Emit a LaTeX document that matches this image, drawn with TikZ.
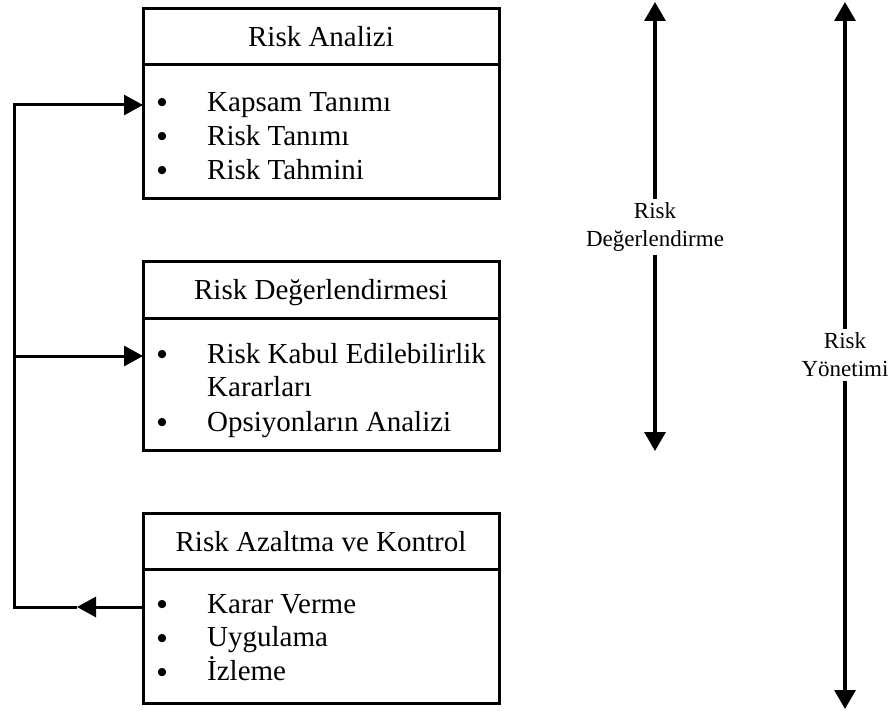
\documentclass[tikz,border=0pt]{standalone}
\usepackage{fontspec}
\setmainfont{Liberation Serif}
\usetikzlibrary{arrows.meta}
\tikzset{
  frame/.style={draw=black, line width=3pt, rectangle, inner sep=0pt, minimum width=356pt},
  divider/.style={line width=3pt},
  title/.style={anchor=base, inner sep=0pt, font=\fontsize{29}{33}\selectfont},
  item/.style={anchor=base west, inner sep=0pt, font=\fontsize{29}{33}\selectfont},
  dot/.style={anchor=base, inner sep=0pt, font=\fontsize{30}{33}\selectfont\bfseries},
  conn/.style={line width=3pt},
  tipconn/.style={line width=3pt, -{Triangle[length=19pt,width=20pt]}},
  span/.style={line width=3.2pt, {Triangle[length=19pt,width=21pt]}-{Triangle[length=19pt,width=21pt]}},
  sidelabel/.style={fill=white, align=center, inner sep=4pt, font=\fontsize{23}{28}\selectfont}
}
\begin{document}
\begin{tikzpicture}[x=1pt,y=-1pt]
\useasboundingbox (0,0) rectangle (894,711);
% boxes
\node[frame, minimum height=190pt] (b1) at (321,104) {};
\node[frame, minimum height=188pt] (b2) at (321,356) {};
\node[frame, minimum height=190pt] (b3) at (321,608) {};
% dividers
\coordinate (d1l) at (143,65);  \coordinate (d1r) at (499,65);
\coordinate (d2l) at (143,318); \coordinate (d2r) at (499,318);
\coordinate (d3l) at (143,569); \coordinate (d3r) at (499,569);
\draw[divider] (d1l) -- (d1r);
\draw[divider] (d2l) -- (d2r);
\draw[divider] (d3l) -- (d3r);
% titles
\node[title] (t1) at (321,47) {Risk Analizi};
\node[title] (t2) at (321,300) {Risk Değerlendirmesi};
\node[title] (t3) at (321,551) {Risk Azaltma ve Kontrol};
% box 1 list
\node[dot] (p11) at (162,113) {•};
\node[item] (i11) at (207,112) {Kapsam Tanımı};
\node[dot] (p12) at (162,147) {•};
\node[item] (i12) at (207,146) {Risk Tanımı};
\node[dot] (p13) at (162,181) {•};
\node[item] (i13) at (207,180) {Risk Tahmini};
% box 2 list
\node[dot] (p21) at (162,364) {•};
\node[item] (i21) at (207,363) {Risk Kabul Edilebilirlik};
\node[item] (i22) at (207,396) {Kararları};
\node[dot] (p23) at (162,432) {•};
\node[item] (i23) at (207,431) {Opsiyonların Analizi};
% box 3 list
\node[dot] (p31) at (162,614) {•};
\node[item] (i31) at (207,613) {Karar Verme};
\node[dot] (p32) at (162,648) {•};
\node[item] (i32) at (207,646) {Uygulama};
\node[dot] (p33) at (162,682) {•};
\node[item] (i33) at (207,680) {İzleme};
% feedback loop
\coordinate (e1) at (143,105);
\coordinate (e2) at (143,356);
\coordinate (e3) at (143,607);
\coordinate (mid3) at (77,607);
\coordinate (c1) at (14,105);
\coordinate (c2) at (14,356);
\coordinate (c3) at (14,607);
\draw[tipconn] (e3) -- (mid3);
\draw[conn, line join=miter] (mid3) -- (c3) -- (c1) -- ([xshift=-19pt]e1);
\draw[tipconn] (c1) -- (e1);
\draw[tipconn] (c2) -- (e2);
% right spans
\coordinate (a1t) at (655,2);
\coordinate (a1b) at (655,451);
\coordinate (a2t) at (845,2);
\coordinate (a2b) at (845,709);
\draw[span] (a1t) -- (a1b);
\draw[span] (a2t) -- (a2b);
\node[sidelabel] (l1) at (655,227) {Risk\\Değerlendirme};
\node[sidelabel] (l2) at (845,355) {Risk\\Yönetimi};
\end{tikzpicture}
\end{document}
